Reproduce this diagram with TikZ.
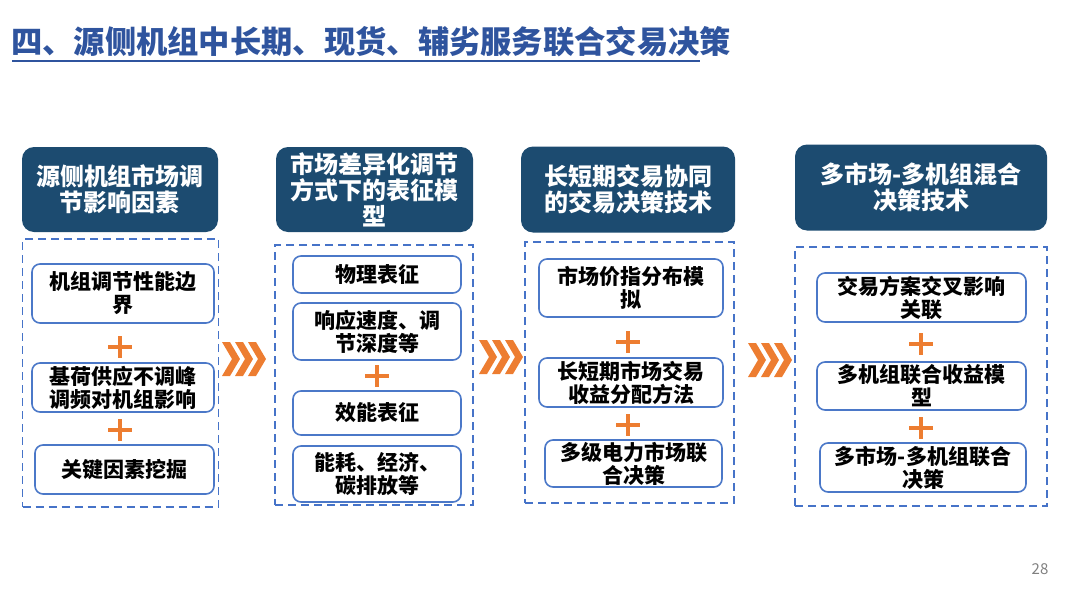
\documentclass[tikz,border=0pt]{standalone}
\usepackage{fontspec}
\setmainfont{Noto Sans CJK SC}
\definecolor{titleblue}{RGB}{47,84,158}
\definecolor{headfill}{RGB}{28,75,112}
\definecolor{boxblue}{RGB}{75,120,200}
\definecolor{dashblue}{RGB}{70,115,200}
\definecolor{orng}{RGB}{237,125,49}
\tikzset{
  head/.style={rounded corners=12pt, fill=headfill, text=white, align=center,
    font=\fontsize{24}{26}\selectfont\bfseries, inner sep=0pt},
  item/.style={rounded corners=8pt, draw=boxblue, line width=1.6pt, fill=white, align=center,
    font=\fontsize{21}{23}\selectfont\bfseries, inner sep=0pt},
  dbox/.style={draw=dashblue, line width=1.6pt, dash pattern=on 8pt off 5pt, inner sep=0pt},
  plus/.style={draw=orng, line width=4pt},
  chev/.style={fill=orng, draw=none},
}
\begin{document}
\begin{tikzpicture}[x=1pt,y=-1pt]
\useasboundingbox (0,0) rectangle (1080,608);
% title
\node[anchor=west, text=titleblue, font=\fontsize{31.3}{34}\selectfont\bfseries, inner sep=0pt] (title) at (11,42) {四、源侧机组中长期、现货、辅劣服务联合交易决策};
\draw[titleblue, line width=2pt] (12,61) -- (700,61);

% dashed containers
\node[dbox, minimum width=196pt, minimum height=268pt] (d1) at (120.5,373) {};
\node[dbox, minimum width=198pt, minimum height=260pt] (d2) at (374,375) {};
\node[dbox, minimum width=209pt, minimum height=261pt] (d3) at (629.5,372.5) {};
\node[dbox, minimum width=252pt, minimum height=259pt] (d4) at (921,376.5) {};

% headers
\node[head, minimum width=196pt, minimum height=85pt] (h1) at (120,189.5) {源侧机组市场调\\节影响因素};
\node[head, minimum width=197pt, minimum height=85pt] (h2) at (374.5,189.5) {市场差异化调节\\方式下的表征模\\型};
\node[head, minimum width=214pt, minimum height=86pt] (h3) at (628,189.5) {长短期交易协同\\的交易决策技术};
\node[head, minimum width=252pt, minimum height=86pt] (h4) at (921,187.5) {多市场-多机组混合\\决策技术};

% column 1
\node[item, minimum width=182pt, minimum height=59pt] (a1) at (123,293.5) {机组调节性能边\\界};
\node[item, minimum width=182pt, minimum height=49pt] (b1) at (123,387.5) {基荷供应不调峰\\调频对机组影响};
\node[item, minimum width=179pt, minimum height=49pt] (c1) at (124.5,469.5) {关键因素挖掘};
% column 2
\node[item, minimum width=168pt, minimum height=37pt] (a2) at (377,274.5) {物理表征};
\node[item, minimum width=168pt, minimum height=57pt] (b2) at (377,331.5) {响应速度、调\\节深度等};
\node[item, minimum width=168pt, minimum height=44pt] (c2) at (377,413) {效能表征};
\node[item, minimum width=168pt, minimum height=56pt] (e2) at (377,474) {能耗、经济、\\碳排放等};
% column 3
\node[item, minimum width=184pt, minimum height=58pt] (a3) at (631,288) {市场价指分布模\\拟};
\node[item, minimum width=184pt, minimum height=49pt] (b3) at (631,382.5) {长短期市场交易\\收益分配方法};
\node[item, minimum width=177pt, minimum height=47pt] (c3) at (633.5,463.5) {多级电力市场联\\合决策};
% column 4
\node[item, minimum width=209pt, minimum height=49pt] (a4) at (921.5,297.5) {交易方案交叉影响\\关联};
\node[item, minimum width=209pt, minimum height=48pt] (b4) at (921.5,386) {多机组联合收益模\\型};
\node[item, minimum width=206pt, minimum height=49pt] (c4) at (923,467.5) {多市场-多机组联合\\决策};

% plus signs
\foreach \px/\py in {120/347, 120/430, 377/376, 628/342, 628/425, 921/344, 921/428}{
  \draw[plus] (\px-12,\py) -- (\px+12,\py) (\px,\py-11) -- (\px,\py+11);
}

% chevrons
\foreach \cx/\cy in {222/359, 479/357, 748/360}{
  \foreach \k in {0,13,26}{
    \fill[chev] (\cx+\k,\cy-17) -- (\cx+\k+8,\cy-17) -- (\cx+\k+18,\cy) -- (\cx+\k+8,\cy+17) -- (\cx+\k,\cy+17) -- (\cx+\k+10,\cy) -- cycle;
  }
}

% page number
\node[text=black!50, font=\fontsize{15}{17}\selectfont, inner sep=0pt] (pg) at (1040,569) {28};
\end{tikzpicture}
\end{document}
